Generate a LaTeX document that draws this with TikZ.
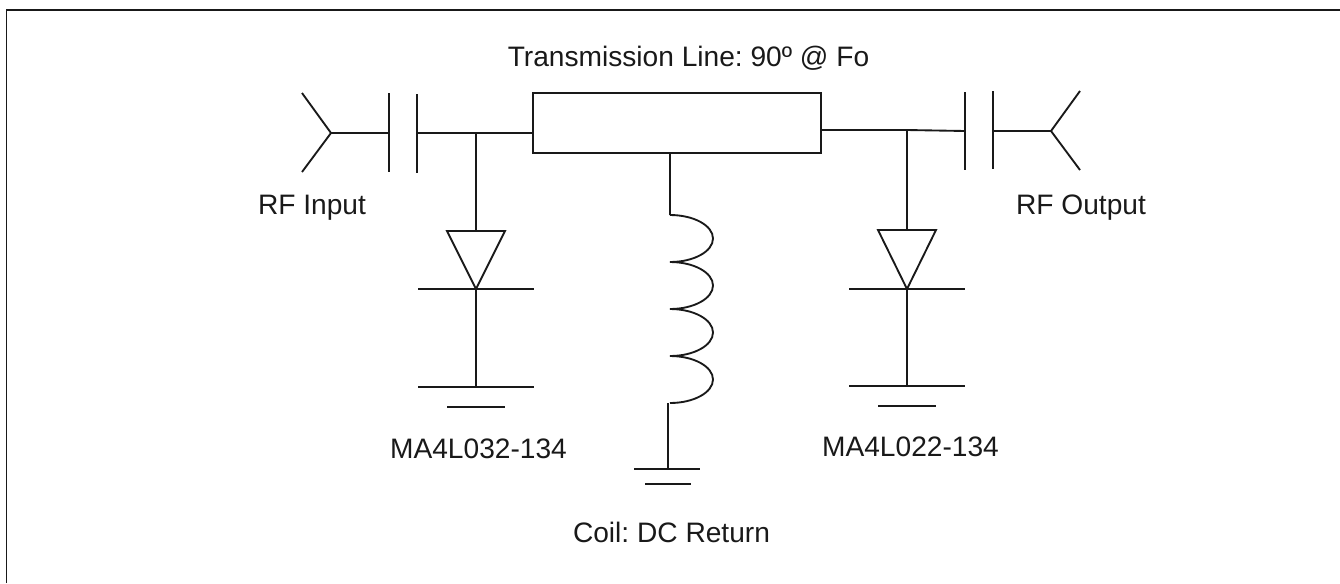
\documentclass[tikz,border=0pt]{standalone}
\usepackage{fontspec}
\setmainfont{Liberation Sans}
\frenchspacing
\usetikzlibrary{calc,positioning}

\begin{document}
\begin{tikzpicture}
	[x=0.75pt,y=-0.75pt,-,line width=1.4pt,black!90,
	every node/.style={inner sep=0pt,outer sep=0pt,anchor=base,text=black!90,font=\fontsize{21.1}{24}\selectfont}]
	\useasboundingbox (0,0) rectangle (1340,583);

	\node[anchor=center,draw,minimum width=216pt,minimum height=45pt] (line) at (677,123) {};
	\node (lineText) at (688.5,66) {Transmission Line: 90º @ Fo};
	\node (inText) at (312,214) {RF Input};
	\node (outText) at (1081,214) {RF Output};
	\node (d1Text) at (478.5,458) {MA4L032-134};
	\node (d2Text) at (910.5,456) {MA4L022-134};
	\node (coilText) at (671.5,542) {Coil: DC Return};

	% frame
	\coordinate (f1) at (6.5,583);
	\coordinate (f2) at (6.5,10);
	\coordinate (f3) at (1340,10);

	% input side
	\coordinate (a1) at (302,93);
	\coordinate (a2) at (331,133);
	\coordinate (a3) at (302,172);
	\coordinate (c1t) at (389,93);
	\coordinate (c1m) at (389,133);
	\coordinate (c1b) at (389,172);
	\coordinate (c2t) at (417,94);
	\coordinate (c2m) at (417,133);
	\coordinate (c2b) at (417,173);
	\coordinate (j1) at (476,133);
	\coordinate (l1) at (533,133);

	% output side
	\coordinate (l2) at (820,130);
	\coordinate (j2) at (907,130);
	\coordinate (c3t) at (965,92);
	\coordinate (c3m) at (965,131);
	\coordinate (c3b) at (965,170);
	\coordinate (c4t) at (993,91);
	\coordinate (c4m) at (993,131);
	\coordinate (c4b) at (993,169);
	\coordinate (b1) at (1080,91);
	\coordinate (b2) at (1051,131);
	\coordinate (b3) at (1080,170);

	% diodes, with their earth bars
	\foreach \n/\x/\ya/\yb/\yc/\yd in {p/476/231/289/387/407,q/907/230/289/386/406}{
		\coordinate (\n top) at (\x,\ya);
		\coordinate (\n tl) at (\x-29,\ya);
		\coordinate (\n tr) at (\x+29,\ya);
		\coordinate (\n tip) at (\x,\yb);
		\coordinate (\n kl) at (\x-58,\yb);
		\coordinate (\n kr) at (\x+58,\yb);
		\coordinate (\n g) at (\x,\yc);
		\coordinate (\n gl) at (\x-58,\yc);
		\coordinate (\n gr) at (\x+58,\yc);
		\coordinate (\n hl) at (\x-29,\yd);
		\coordinate (\n hr) at (\x+29,\yd);
	}
	\draw (ptl) -- (ptr) -- (ptip) -- cycle;
	\draw (qtl) -- (qtr) -- (qtip) -- cycle;

	% coil
	\coordinate (m1) at (670,153);
	\coordinate (m2) at (670,215);
	\coordinate (m3) at (668,403);
	\coordinate (m4) at (668,469);
	\coordinate (m5) at (634,469);
	\coordinate (m6) at (700,469);
	\coordinate (m7) at (645,484);
	\coordinate (m8) at (691,484);
	\draw (m2)
	\foreach \i in {1,2,3,4}{
		arc[start angle=-90,end angle=90,x radius=43,y radius=23.5]
	};

	\draw (f1) -- (f2) -- (f3);
	\draw (a1) -- (a2) -- (a3);
	\draw (b1) -- (b2) -- (b3);
	\path
	\foreach \startNode/\endNode in {a2/c1m,c1t/c1b,c2t/c2b,c2m/l1,j1/ptop,
		pkl/pkr,ptip/pg,pgl/pgr,phl/phr,l2/j2,j2/c3m,c3t/c3b,c4t/c4b,c4m/b2,j2/qtop,
		qkl/qkr,qtip/qg,qgl/qgr,qhl/qhr,m1/m2,m3/m4,m5/m6,m7/m8}{
		(\startNode) edge (\endNode)
	};
\end{tikzpicture}
\end{document}
